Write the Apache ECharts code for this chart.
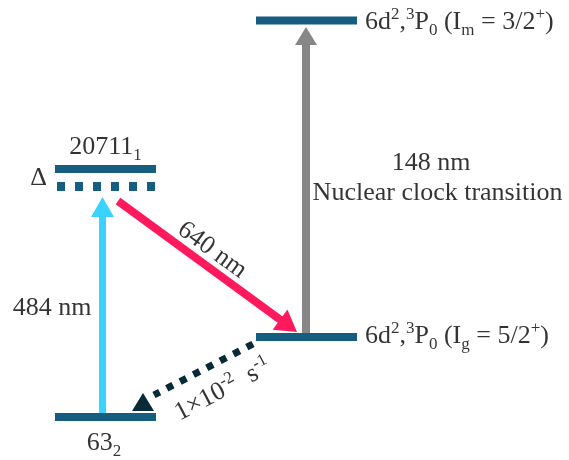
<!DOCTYPE html>
<html>
<head>
<meta charset="utf-8">
<script src="https://cdn.jsdelivr.net/npm/echarts@6/dist/echarts.min.js"></script>
<style>
  html, body { margin: 0; padding: 0; background: #ffffff; }
  #chart { width: 569px; height: 460px; }
</style>
</head>
<body>
<div id="chart"></div>
<script>
// ---------- DATA (diagram units: x across, y upward ~ energy, 0..569 x 0..460) ----------
// Energy levels
const levelNames  = ['63_2', '20711_1', '6d2 3P0 Ig=5/2+', '6d2 3P0 Im=3/2+'];
const levelXStart = [55, 55, 256, 256];
const levelXEnd   = [156, 156, 357, 357];
const levelY      = [43, 291, 123, 439.5];

// Virtual (detuned) level, drawn dotted
const virtualLevelX = [57, 156];
const virtualLevelY = [273.5];

// Transitions: start and end (tip) points
const transitionNames = ['484 nm', '640 nm', '148 nm', 'decay 1e-2 s^-1'];
const transitionStart = [[102.5, 43], [118, 259], [306, 123], [253, 116]];
const transitionEnd   = [[102.5, 263], [297, 128], [306, 433], [154, 65]];
const decayHeadPoint  = [[143, 58]];

// Text labels (rich-text strings)
const labelTexts = [
  '{m|20711}{sub|1}',
  '{m|Δ}',
  '{m|63}{sub|2}',
  '{m|484 nm}',
  '{m|640 nm}',
  '{m|148 nm}',
  '{m|Nuclear clock transition}',
  '{m|1×10}{sup|-2}{m|  s}{sup|-1}',
  '{m|6d}{sup|2}{m|,}{sup|3}{m|P}{sub|0}{m| (I}{sub|m}{m| = 3/2}{sup|+}{m|)}',
  '{m|6d}{sup|2}{m|,}{sup|3}{m|P}{sub|0}{m| (I}{sub|g}{m| = 5/2}{sup|+}{m|)}'
];
const labelAnchors = [
  [105.5, 313], [38.5, 282], [104, 17], [52, 152], [212, 210],
  [431, 297], [437.5, 267], [223, 70], [365, 438], [365, 124]
];
const labelRotations = [0, 0, 0, 0, -36, 0, 0, 28, 0, 0];
const labelAligns = ['center', 'center', 'center', 'center', 'center', 'center', 'center', 'center', 'left', 'left'];

// ---------- STYLES ----------
const FONT = '"Liberation Serif", "Times New Roman", serif';
const LEVEL_COLOR = '#165e80';
const transitionStyles = [
  { color: '#3ad2ff', width: 7, head: [23, 20] },
  { color: '#ff1a5e', width: 8, head: [25, 21] },
  { color: '#878787', width: 8, head: [22, 18] },
  { color: '#082a36', width: 7, dash: [7, 8] }
];

const rich = {
  m:   { fontFamily: FONT, fontSize: 26, color: '#000' },
  sup: { fontFamily: FONT, fontSize: 17, color: '#000', padding: [0, 0, 15, 0] },
  sub: { fontFamily: FONT, fontSize: 17, color: '#000', padding: [18, 0, 0, 0] }
};

// ---------- BUILD ----------
const levelData = levelNames.map((n, i) => ({ name: n, value: [levelXStart[i], levelXEnd[i], levelY[i]] }));
const virtualData = [{ name: 'Δ', value: [virtualLevelX[0], virtualLevelX[1], virtualLevelY[0]] }];
const transitionData = transitionNames.map((n, i) => ({
  name: n,
  value: [transitionStart[i][0], transitionStart[i][1], transitionEnd[i][0], transitionEnd[i][1]]
}));
const labelData = labelTexts.map((t, i) => ({
  value: labelAnchors[i],
  label: { formatter: t, rotate: labelRotations[i], align: labelAligns[i] }
}));

function renderLevel(lineWidth, dash) {
  return function (params, api) {
    const a = api.coord([api.value(0), api.value(2)]);
    const b = api.coord([api.value(1), api.value(2)]);
    return {
      type: 'line',
      shape: { x1: a[0], y1: a[1], x2: b[0], y2: b[1] },
      style: { stroke: LEVEL_COLOR, lineWidth: lineWidth, lineDash: dash || null, lineCap: 'butt' }
    };
  };
}

function renderArrow(params, api) {
  const st = transitionStyles[params.dataIndex];
  const p0 = api.coord([api.value(0), api.value(1)]);
  const p1 = api.coord([api.value(2), api.value(3)]);
  const dx = p1[0] - p0[0], dy = p1[1] - p0[1];
  const L = Math.hypot(dx, dy);
  const ux = dx / L, uy = dy / L, px = -uy, py = ux;
  const children = [];
  const hh = st.head ? st.head[1] : 0;
  const ex = p1[0] - ux * hh * 0.6, ey = p1[1] - uy * hh * 0.6;
  children.push({
    type: 'line',
    shape: { x1: p0[0], y1: p0[1], x2: ex, y2: ey },
    style: { stroke: st.color, lineWidth: st.width, lineDash: st.dash || null, lineCap: 'butt' }
  });
  if (st.head) {
    const w = st.head[0];
    const bx = p1[0] - ux * hh, by = p1[1] - uy * hh;
    children.push({
      type: 'polygon',
      shape: { points: [[p1[0], p1[1]], [bx + px * w / 2, by + py * w / 2], [bx - px * w / 2, by - py * w / 2]] },
      style: { fill: st.color }
    });
  }
  return { type: 'group', children: children };
}

const chart = echarts.init(document.getElementById('chart'), null, { renderer: 'canvas' });
chart.setOption({
  animation: false,
  backgroundColor: '#ffffff',
  grid: { left: 0, right: 0, top: 0, bottom: 0, containLabel: false },
  xAxis: { type: 'value', min: 0, max: 569, show: false },
  yAxis: { type: 'value', min: 0, max: 460, show: false },
  series: [
    {
      type: 'custom', name: 'transitions', silent: true, z: 2,
      renderItem: renderArrow,
      encode: { x: [0, 2], y: [1, 3] },
      data: transitionData
    },
    {
      type: 'scatter', name: 'decay head', silent: true, z: 3,
      symbol: 'triangle', symbolSize: [22, 18],
      itemStyle: { color: '#082a36', opacity: 1 },
      emphasis: { disabled: true },
      data: decayHeadPoint
    },
    {
      type: 'custom', name: 'levels', silent: true, z: 4,
      renderItem: renderLevel(8),
      encode: { x: [0, 1], y: 2 },
      data: levelData
    },
    {
      type: 'custom', name: 'virtual level', silent: true, z: 4,
      renderItem: renderLevel(9, [8, 10]),
      encode: { x: [0, 1], y: 2 },
      data: virtualData
    },
    {
      type: 'scatter', name: 'labels', silent: true, z: 5,
      symbolSize: 1,
      itemStyle: { color: 'rgba(0,0,0,0)' },
      label: {
        show: true, position: 'inside', verticalAlign: 'middle',
        fontFamily: FONT, fontSize: 26, color: '#000',
        rich: rich
      },
      emphasis: { disabled: true },
      data: labelData
    }
  ]
});
</script>
</body>
</html>
